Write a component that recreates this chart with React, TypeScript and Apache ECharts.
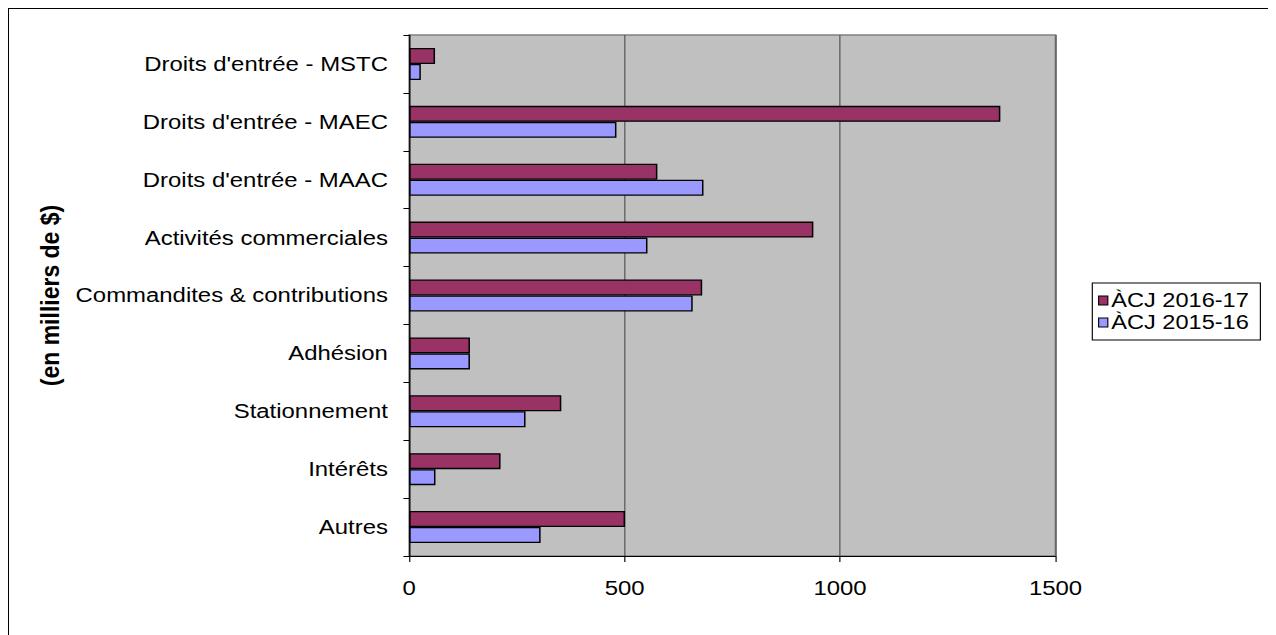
import React, { useEffect, useRef } from "react";
import * as echarts from "echarts";

const categories = [
  "Droits d'entrée - MSTC",
  "Droits d'entrée - MAEC",
  "Droits d'entrée - MAAC",
  "Activités commerciales",
  "Commandites & contributions",
  "Adhésion",
  "Stationnement",
  "Intérêts",
  "Autres",
];
const series2016 = [60, 1372, 576, 938, 680, 141, 353, 212, 501];
const series2015 = [27, 481, 683, 553, 658, 141, 270, 61, 305];
const seriesNames = ["ÀCJ 2016-17", "ÀCJ 2015-16"];
const xTicks = { min: 0, max: 1500, interval: 500 };

const FONT = "'Liberation Sans', Arial, sans-serif";
const SX = 1.15;

export default function App() {
  const ref = useRef<HTMLDivElement>(null);
  useEffect(() => {
    if (!ref.current) return;
    const chart = echarts.init(ref.current, null, { renderer: "svg" });
    chart.setOption({
      animation: false,
      textStyle: { fontFamily: FONT },
      grid: {
        left: 348,
        right: 192,
        top: 26,
        bottom: 79,
        show: true,
        backgroundColor: "#c0c0c0",
        borderColor: "#808080",
        borderWidth: 1.5,
      },
      legend: {
        orient: "vertical",
        left: 942,
        top: 274,
        data: seriesNames,
        icon: "rect",
        itemWidth: 8,
        itemHeight: 9,
        itemGap: 1,
        padding: [7, 10, 7, 5],
        backgroundColor: "#fff",
        borderColor: "#000",
        borderWidth: 1,
        textStyle: {
          fontSize: 20.5,
          lineHeight: 20,
          color: "#000",
          fontFamily: FONT,
          padding: [0, 0, 0, -2],
        },
        itemStyle: { borderColor: "#000", borderWidth: 1 },
      },
      xAxis: {
        type: "value",
        min: xTicks.min,
        max: xTicks.max,
        interval: xTicks.interval,
        axisLine: { show: true, lineStyle: { color: "#000", width: 1 } },
        axisTick: { show: true, length: 6, lineStyle: { color: "#000" } },
        axisLabel: {
          fontSize: 20.8,
          color: "#000",
          margin: 22,
          fontFamily: FONT,
          formatter: (v: number) => String(v),
        },
        splitLine: { show: true, lineStyle: { color: "#505050", width: 1 } },
      },
      yAxis: {
        type: "category",
        inverse: true,
        data: categories,
        name: "(en milliers de $)",
        nameLocation: "middle",
        nameRotate: 90,
        nameGap: 280,
        nameTextStyle: { fontSize: 23, fontWeight: "bold", color: "#000", fontFamily: FONT },
        axisLine: { show: true, lineStyle: { color: "#000", width: 1 } },
        axisTick: { show: true, length: 5, alignWithLabel: false, lineStyle: { color: "#000" } },
        axisLabel: { fontSize: 20.8, color: "#000", margin: 18.5, fontFamily: FONT },
        splitLine: { show: false },
      },
      series: [
        {
          name: seriesNames[0],
          type: "bar",
          data: series2016,
          barWidth: 16,
          barGap: "0%",
          itemStyle: { color: "#993366", borderColor: "#000", borderWidth: 1.3 },
        },
        {
          name: seriesNames[1],
          type: "bar",
          data: series2015,
          barWidth: 16,
          barGap: "0%",
          itemStyle: { color: "#9999ff", borderColor: "#000", borderWidth: 1.3 },
        },
      ],
    });
    return () => chart.dispose();
  }, []);

  return (
    <div
      style={{
        width: 1268,
        height: 627,
        borderTop: "1px solid #000",
        borderLeft: "1px solid #000",
        boxSizing: "border-box",
        overflow: "hidden",
        background: "#fff",
      }}
    >
      <div
        ref={ref}
        style={{
          width: 1102,
          height: 626,
          transform: `scaleX(${SX})`,
          transformOrigin: "0 0",
        }}
      />
    </div>
  );
}
